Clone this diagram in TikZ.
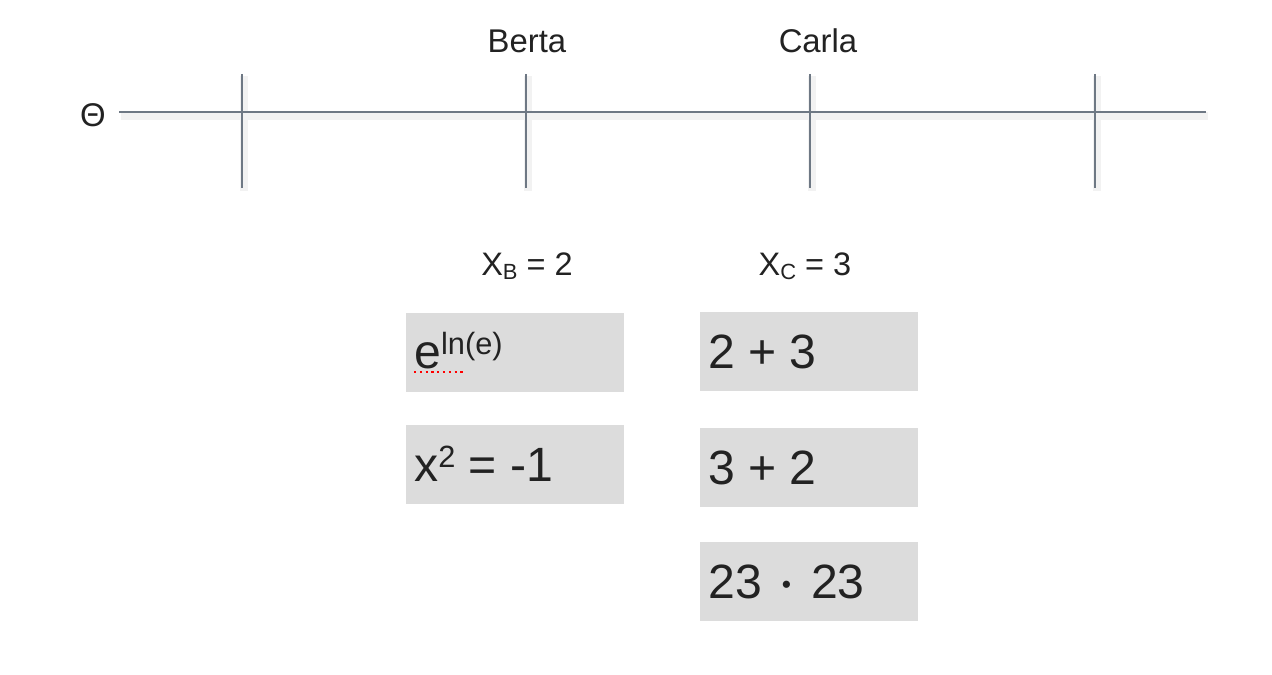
\documentclass[tikz,border=0pt]{standalone}
\usepackage{fontspec}
\setmainfont{Liberation Sans}
\definecolor{axis}{HTML}{6E7884}
\definecolor{boxgray}{HTML}{DCDCDC}
\definecolor{txt}{HTML}{222222}
\begin{document}
\begin{tikzpicture}[x=0.02cm,y=-0.02cm,
  axisline/.style={draw=axis,line width=1.6pt},
  shadowline/.style={draw=black!5,line width=4pt},
  gbox/.style={fill=boxgray,draw=none,minimum width=4.36cm,minimum height=1.58cm,anchor=north west,inner sep=0},
  lbl/.style={font=\fontsize{18.7}{22}\selectfont,text=txt,inner sep=0},
  eqlbl/.style={font=\fontsize{18.5}{22}\selectfont,text=txt,inner sep=0},
  big/.style={font=\fontsize{27.4}{31}\selectfont,text=txt,anchor=base west,inner sep=0}]
\useasboundingbox (0,0) rectangle (1272,675);
% axis coordinates
\coordinate (L) at (119,112);
\coordinate (R) at (1206,112);
\coordinate (Ls) at (121,116);
\coordinate (Rs) at (1208,116);
\foreach \i/\x in {1/242,2/526,3/810,4/1095}{
  \coordinate (t\i a) at (\x,74);
  \coordinate (t\i b) at (\x,188);
  \coordinate (s\i a) at (\x+2,76);
  \coordinate (s\i b) at (\x+2,191);
}
% shadows
\draw[shadowline] (Ls) -- (Rs);
\foreach \i in {1,2,3,4}{\draw[shadowline] (s\i a) -- (s\i b);}
% axis and ticks
\draw[axisline] (L) -- (R);
\foreach \i in {1,2,3,4}{\draw[axisline] (t\i a) -- (t\i b);}
% labels
\node[lbl] (theta) at (93,115) {Θ};
\node[lbl] (berta) at (527,41) {Berta};
\node[lbl] (carla) at (818,41) {Carla};
\node[eqlbl] (xb) at (527,266) {X\raisebox{-0.12em}{\fontsize{12.5}{14}\selectfont B} = 2};
\node[eqlbl] (xc) at (805,266) {X\raisebox{-0.12em}{\fontsize{12.5}{14}\selectfont C} = 3};
% boxes
\node[gbox] (b1) at (406,313) {};
\node[gbox] (b2) at (406,425) {};
\node[gbox] (c1) at (700,312) {};
\node[gbox] (c2) at (700,428) {};
\node[gbox] (c3) at (700,542) {};
% box texts
\node[big] (tb1) at (414,369) {e\raisebox{0.3cm}{\fontsize{17.5}{20}\selectfont ln(e)}};
\coordinate (u1) at (414,372);
\coordinate (u2) at (463,372);
\draw[red,dotted,line width=1.3pt] (u1) -- (u2);
\node[big] (tb2) at (414,482) {x\raisebox{0.3cm}{\fontsize{17.5}{20}\selectfont 2} = -1};
\node[big] (tc1) at (708,369) {2 + 3};
\node[big] (tc2) at (708,485) {3 + 2};
\node[big] (tc3) at (708,599) {23\hspace{0.4cm}\raisebox{0.12cm}{\fontsize{15}{15}\selectfont •}\hspace{0.4cm}23};
\end{tikzpicture}
\end{document}
